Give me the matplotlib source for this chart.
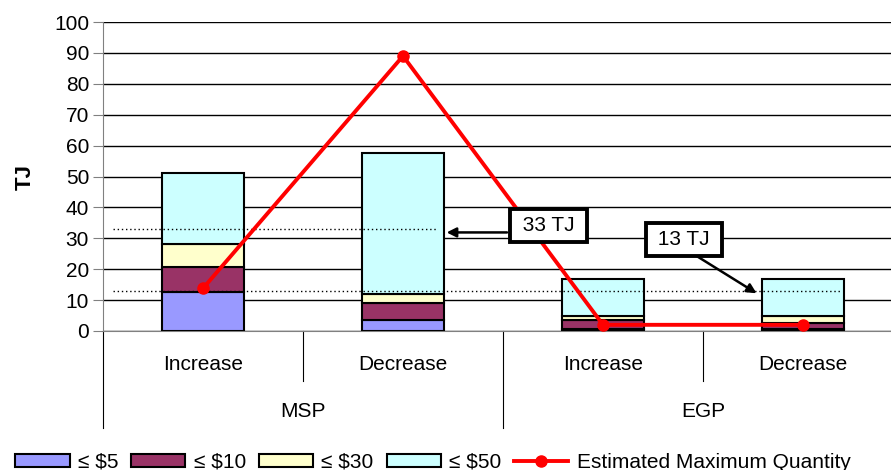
import matplotlib
matplotlib.use("Agg")
import matplotlib.pyplot as plt
from matplotlib.patches import Patch
from matplotlib.lines import Line2D

plt.rcParams['font.family'] = ['Liberation Sans', 'DejaVu Sans']

groups = ['MSP', 'EGP']
subcats = ['Increase', 'Decrease', 'Increase', 'Decrease']
le5 = [12.7, 3.7, 0.7, 0.8]
le10 = [7.9, 5.4, 3.0, 1.9]
le30 = [7.7, 3.0, 1.1, 2.1]
le50 = [22.8, 45.4, 11.9, 11.9]
emq = [13.8, 89.0, 2.0, 2.0]
ref_levels = [33, 13]
ref_labels = ['33 TJ', '13 TJ']
series_names = ['\u2264 $5', '\u2264 $10', '\u2264 $30', '\u2264 $50']
series_colors = ['#9999ff', '#993366', '#ffffcc', '#ccffff']

FS = 15

fig = plt.figure(figsize=(8.91, 4.70), dpi=100)
ax = fig.add_axes([103 / 891, 139 / 470, 800 / 891, 309 / 470])

x = list(range(len(subcats)))
bottom = [0.0] * len(x)
for vals, name, col in zip([le5, le10, le30, le50], series_names, series_colors):
    ax.bar(x, vals, width=0.41, bottom=bottom, color=col, edgecolor='black',
           linewidth=1.5, zorder=3, label=name)
    bottom = [b + v for b, v in zip(bottom, vals)]

ax.plot(x, emq, color='red', linewidth=2.8, marker='o', markersize=8,
        zorder=5, label='Estimated Maximum Quantity')

# reference levels drawn as dotted lines
ax.plot([-0.45, 1.175], [ref_levels[0]] * 2, color='black', linestyle=(0, (1, 2)),
        linewidth=1.0, zorder=4)
ax.plot([-0.45, 3.185], [ref_levels[1]] * 2, color='black', linestyle=(0, (1, 2)),
        linewidth=1.0, zorder=4)

box = dict(boxstyle='square,pad=0.32', facecolor='white', edgecolor='black', linewidth=2.8)
arrow = dict(arrowstyle='-|>', color='black', lw=1.8, mutation_scale=14,
             shrinkA=0, shrinkB=0)

# 33 TJ callout: horizontal arrow pointing at the level line
ax.annotate('', xy=(1.218, 31.9), xytext=(1.52, 31.9), arrowprops=arrow, zorder=6)
ax.text(1.728, 34.1, ' ' + ref_labels[0] + ' ', fontsize=FS, ha='center', va='center',
        bbox=box, zorder=7)

# 13 TJ callout: slanted arrow from the box down to the level line
ax.annotate('', xy=(2.768, 12.2), xytext=(2.45, 25.0), arrowprops=arrow, zorder=6)
ax.text(2.405, 29.6, ' ' + ref_labels[1] + ' ', fontsize=FS, ha='center', va='center',
        bbox=box, zorder=7)

ax.set_xlim(-0.5, 3.5)
ax.set_ylim(0, 100)
ax.set_yticks(range(0, 101, 10))
ax.yaxis.grid(True, color='black', linewidth=1.0, zorder=0)
ax.set_axisbelow(True)
ax.tick_params(axis='y', direction='out', length=7, color='#808080', labelsize=FS, pad=3)
ax.tick_params(axis='x', bottom=False, labelbottom=False)
for s in ['top', 'right']:
    ax.spines[s].set_visible(False)
ax.spines['left'].set_color('#808080')
ax.spines['bottom'].set_color('#808080')
ax.set_ylabel('TJ', fontsize=16, fontweight='bold', labelpad=13)

# category separators and labels below the axis
tr = ax.get_xaxis_transform()
ax.plot([-0.5, -0.5], [0, -0.314], transform=tr, color='black', lw=0.8, clip_on=False)
ax.plot([1.5, 1.5], [0, -0.314], transform=tr, color='black', lw=0.8, clip_on=False)
for xs in [0.5, 2.5]:
    ax.plot([xs, xs], [0, -0.162], transform=tr, color='black', lw=0.8, clip_on=False)
for xi, lab in zip(x, subcats):
    ax.text(xi, -0.108, lab, transform=tr, ha='center', va='center', fontsize=FS)
for gi, g in enumerate(groups):
    ax.text(0.5 + 2 * gi, -0.262, g, transform=tr, ha='center', va='center', fontsize=FS)

handles = [Patch(facecolor=c, edgecolor='black', linewidth=1.5) for c in series_colors]
handles.append(Line2D([], [], color='red', linewidth=2.8, marker='o', markersize=8))
labels = series_names + ['Estimated Maximum Quantity']
fig.legend(handles, labels, loc='center', bbox_to_anchor=(433 / 891, 1 - 462 / 470),
           ncol=5, frameon=False, fontsize=FS, handlelength=2.6, handleheight=0.6,
           handletextpad=0.4, columnspacing=0.62, borderaxespad=0)

fig.savefig('out.png', dpi=100)
